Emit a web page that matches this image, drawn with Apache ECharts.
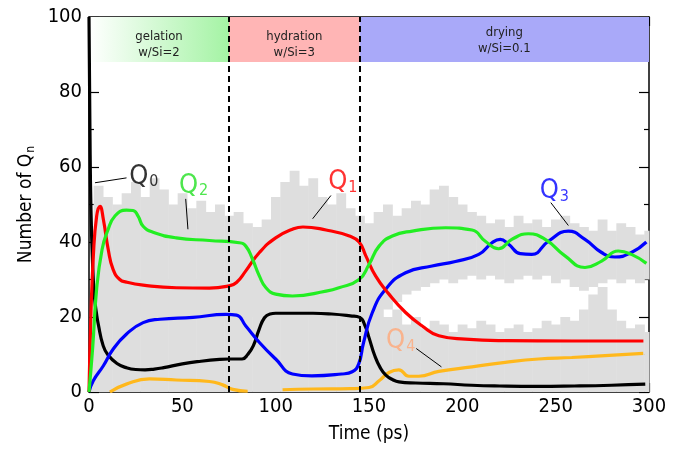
<!DOCTYPE html>
<html>
<head>
<meta charset="utf-8">
<script src="https://cdn.jsdelivr.net/npm/echarts@6/dist/echarts.min.js"></script>
<style>html,body{margin:0;padding:0;background:#fff}#c{width:682px;height:449px}</style>
</head>
<body>
<div id="c"></div>
<script>
// ---- data ----
const q0T = [0,0.5,1,2,3,4,5,7.5,10,15,20,25,30,35,40,50,60,70,75,82,85,88,91,94,97,100,110,120,130,140,145,148,150,153,156,159,163,166,175,190,205,220,240,260,280,298];
const q0V = [100,70,50,33,25,21,18,12.5,10,7.6,6.5,6,5.9,6.1,6.5,7.5,8.2,8.7,8.8,8.8,10,12.3,16.5,19.8,20.8,21,21,21,20.8,20.3,19.9,17.5,14.5,9.8,6.5,4.5,3.2,2.7,2.4,2.2,1.8,1.6,1.5,1.6,1.8,2.1];

const q1T = [0,1,2.3,4.1,5.9,7.7,10.3,12.9,16.5,20,29,46.7,64.5,75,79,84,91.3,100,109,114.6,127,139.5,144.7,148.3,153.6,160.7,169.6,178.5,187.4,201.6,223,258.6,297];
const q1V = [0,20,36,46.9,49.5,46,38,32.7,30,29.3,28.5,27.8,27.7,28.3,29.2,32.3,37.2,41.1,43.4,44,43.2,41.6,40,36.3,30.9,26.1,21.2,17.6,15,14.1,13.7,13.6,13.6];

const q2T = [0,2,4,7,10,14,20,23.6,26.3,29,34.3,46.7,64.5,80.5,84,87.6,91.3,94.8,100,109,127,133.9,144.7,150,155.4,162.5,173.2,191,205.2,212.3,219.4,226.5,235.4,244.4,255,265.7,274.6,283.5,290.6,298.6];
const q2V = [0,12,27,38,43,47,48.5,48.4,46.9,44.2,42.6,41.1,40.4,39.8,38.9,35.4,30.9,27.8,26.1,25.6,26.9,27.8,30,34,38.9,41.6,42.9,43.8,43.2,40.2,38.2,40.7,42.2,40.7,36.3,33.2,34.9,37.6,36.7,34.3];

const q3T = [0,2.3,7.7,12.9,20,29,38,55.7,73.5,79,84,91.3,100,109,119.4,135.4,141,144.5,147,151.8,158.9,169.6,183.8,196.3,208.8,215.9,220.3,224.8,231,237.2,246.1,256.8,265.7,274.6,281.7,290.6,298.6];
const q3V = [0,3,7,11.4,15.4,18.5,19.4,19.9,20.7,20.5,17.6,13.2,8.8,4.8,4.3,4.8,5.4,7.5,13,21.2,27.4,31.8,33.6,34.8,36.7,39.8,40.7,39.4,36.9,36.7,40.2,42.9,40.7,37.2,36,37.2,40];

const q4T = [11.2,20,32.4,46.7,64.5,71.6,77,85,95,103.7,120,140,150,155.4,160.7,166,171.4,176.7,187.4,205.2,223,240.8,258.6,276.4,296.9];
const q4V = [0,2.1,3.5,3.2,2.8,1.9,0.7,0.2,null,0.6,0.8,0.9,1.2,3,5.2,5.9,4.2,4.2,5.5,6.7,7.9,8.8,9.2,9.7,10.3];

// raw (noisy) data envelopes, every 5 ps
const grayT = [0,5,10,15,20,25,30,35,40,45,50,55,60,65,70,75,80,85,90,95,100,105,110,115,120,125,130,135,140,145,150,155,160,165,170,175,180,185,190,195,200,205,210,215,220,225,230,235,240,245,250,255,260,265,270,275,280,285,290,295,300];
const grayHighA = [20,55,52,50,53,56,52,57,54,50, 53,49,51,48,50,47,48,45,44,46, 52,56,59,55,57,52,50,53,49,47, 45,48,50,47,49,51,50,54,55,52, 50,48,47,45,46,44,47,45,46,44, 46,47,45,44,43,46,43,45,44,42, 43];
const grayLowA = [20,20,20,20,20,20,20,20,20,20, 20,20,20,20,20,20,20,20,20,20, 20,20,20,20,20,20,20,20,20,20, 10,18,22,24,26,27,28,29,30,29, 30,31,30,31,30,29,30,31,30,31, 29,30,28,27,28,29,30,29,30,29, 30];
const grayHighB = [15,35,30,28,30,30,30,28,30,30, 30,30,30,30,30,30,30,30,30,30, 30,30,30,30,30,30,30,30,30,30, 25,22,20,22,18,20,17,19,18,16, 18,17,19,18,16,17,18,16,17,19, 18,20,19,22,26,28,22,19,17,18, 16];

const phaseStart = [0, 75, 145];
const phaseEnd = [75, 145, 300];
const phaseName = ['gelation', 'hydration', 'drying'];
const phaseRatio = ['w/Si=2', 'w/Si=3', 'w/Si=0.1'];
const bandBottom = 88;

const xTicks = [0, 50, 100, 150, 200, 250, 300];
const yTicks = [0, 20, 40, 60, 80, 100];

// annotations: [label digit, text pos t, v, arrow from t,v, arrow to t,v]
const annots = [
  ['0', 29.4, 57.4, 20.1, 57.1, 3.2, 55.8],
  ['2', 56, 55, 51.8, 51.5, 53, 43.4],
  ['1', 136, 55.9, 129.6, 52.4, 119.8, 46.2],
  ['3', 249.3, 53.5, 247.4, 50.5, 256.8, 44.4],
  ['4', 167, 13.6, 175.3, 11.6, 188.8, 6.7]
];
const annotColor = ['#000000', '#22e022', '#ff0000', '#0000ff', '#ffa878'];

// ---- build ----
const FONT = "'DejaVu Sans Condensed', 'DejaVu Sans', sans-serif";
function pairs(T, V) { return T.map((t, i) => [t, V[i] === null ? '-' : V[i]]); }
const chart = echarts.init(document.getElementById('c'), null, {renderer: 'canvas'});

const grayColor = '#dedede';
const halfStep = (grayT[1] - grayT[0]) / 2;
function bandRender(params, api) {
  const t = api.value(0), lo = api.value(1), hi = api.value(2);
  const p1 = api.coord([Math.max(0, t - halfStep), hi]);
  const p2 = api.coord([Math.min(300, t + halfStep), lo]);
  return {type: 'rect', shape: {x: p1[0], y: p1[1], width: p2[0] - p1[0] + 0.5, height: p2[1] - p1[1]}, style: {fill: grayColor}};
}
const lineBase = {type: 'line', showSymbol: false, symbol: 'none', smooth: 0.5, z: 4};

const series = [
  {type: 'custom', name: 'rawA', renderItem: bandRender, silent: true, z: 1,
    data: grayT.map((t, i) => [t, grayLowA[i], grayHighA[i]])},
  {type: 'custom', name: 'rawB', renderItem: bandRender, silent: true, z: 1,
    data: grayT.map((t, i) => [t, 0, grayHighB[i]])},
  {type: 'line', name: 'bands', data: [], z: 2, symbol: 'none',
    markArea: {
      silent: true,
      data: phaseStart.map((s, i) => [{
        xAxis: s, yAxis: bandBottom,
        itemStyle: {color: i === 0 ? new echarts.graphic.LinearGradient(0, 0, 1, 0, [{offset: 0, color: '#ffffff'}, {offset: 1, color: '#a4f3a4'}]) : (i === 1 ? '#ffb5b5' : '#a9a9f9'), opacity: 1},
        label: {show: true, position: 'inside', offset: [0, i === 2 ? 1 : 5], formatter: phaseName[i] + '\n' + phaseRatio[i], color: '#222', fontSize: 13, lineHeight: 16, fontFamily: FONT}
      }, {xAxis: phaseEnd[i], yAxis: 100}])
    }
  },
  Object.assign({}, lineBase, {name: 'Q4', data: pairs(q4T, q4V), lineStyle: {width: 3.2, color: '#ffb81c'}, itemStyle: {color: '#ffb81c'}}),
  Object.assign({}, lineBase, {name: 'Q0', data: pairs(q0T, q0V), lineStyle: {width: 3.2, color: '#000'}, itemStyle: {color: '#000'}}),
  Object.assign({}, lineBase, {name: 'Q3', data: pairs(q3T, q3V), lineStyle: {width: 3.2, color: '#0000ff'}, itemStyle: {color: '#0000ff'}}),
  Object.assign({}, lineBase, {name: 'Q1', data: pairs(q1T, q1V), lineStyle: {width: 3.2, color: '#ff0000'}, itemStyle: {color: '#ff0000'}}),
  Object.assign({}, lineBase, {name: 'Q2', data: pairs(q2T, q2V), lineStyle: {width: 3.2, color: '#22ee22'}, itemStyle: {color: '#22ee22'}}),
  {type: 'line', name: 'dash', data: [], z: 6, symbol: 'none',
    markLine: {silent: true, symbol: 'none', label: {show: false},
      lineStyle: {color: '#000', width: 2, type: [6, 4]},
      data: [{xAxis: phaseStart[1]}, {xAxis: phaseStart[2]}]}
  },
  {type: 'line', name: 'arrows', data: [], z: 7, symbol: 'none',
    markLine: {silent: true, symbol: ['none', 'arrow'], symbolSize: [0, 8], label: {show: false},
      lineStyle: {color: '#000', width: 1, type: 'solid'},
      data: annots.map(a => [{coord: [a[3], a[4]]}, {coord: [a[5], a[6]]}])}
  },
  {type: 'scatter', name: 'labels', symbolSize: 0, z: 8, silent: true,
    data: annots.map((a, i) => ({
      value: [a[1], a[2]],
      label: {show: true, position: 'inside', formatter: '{q|Q}{s|' + a[0] + '}',
        rich: {
          q: {fontSize: 27, color: annotColor[i], fontFamily: FONT},
          s: {fontSize: 16, color: annotColor[i], fontFamily: FONT, padding: [11, 0, 0, 1]}
        }}
    }))
  }
];

const axisLineStyle = {color: '#000', width: 1.5};
chart.setOption({
  animation: false,
  backgroundColor: '#fff',
  grid: {left: 89, right: 33, top: 17, bottom: 56},
  xAxis: [
    {type: 'value', min: 0, max: 300, interval: 50, position: 'bottom',
      axisLine: {show: true, onZero: false, lineStyle: axisLineStyle},
      axisTick: {inside: true, length: 9, lineStyle: {color: '#000', width: 1.2}},
      minorTick: {show: true, splitNumber: 2, length: 5, lineStyle: {color: '#000', width: 1.2}},
      splitLine: {show: false},
      axisLabel: {color: '#000', fontSize: 20, fontFamily: FONT, margin: 5, formatter: v => xTicks.includes(v) ? String(v) : ''},
      name: 'Time (ps)', nameLocation: 'middle', nameGap: 33,
      nameTextStyle: {color: '#000', fontSize: 19, fontFamily: FONT}
    },
    {type: 'value', min: 0, max: 300, interval: 50, position: 'top',
      axisLine: {show: true, onZero: false, lineStyle: axisLineStyle},
      axisTick: {inside: true, length: 9, lineStyle: {color: '#000', width: 1.2}},
      minorTick: {show: true, splitNumber: 2, length: 5, lineStyle: {color: '#000', width: 1.2}},
      splitLine: {show: false}, axisLabel: {show: false}
    }
  ],
  yAxis: [
    {type: 'value', min: 0, max: 100, interval: 20, position: 'left',
      axisLine: {show: true, onZero: false, lineStyle: axisLineStyle},
      axisTick: {inside: true, length: 10, lineStyle: {color: '#000', width: 1.2}},
      minorTick: {show: true, splitNumber: 2, length: 5, lineStyle: {color: '#000', width: 1.2}},
      splitLine: {show: false},
      axisLabel: {color: '#000', fontSize: 20, fontFamily: FONT, margin: 7, formatter: v => yTicks.includes(v) ? String(v) : ''},
      name: 'Number of Q{s|n}', nameLocation: 'middle', nameGap: 52, nameRotate: 90,
      nameTextStyle: {color: '#000', fontSize: 19, fontFamily: FONT,
        rich: {s: {fontSize: 12, fontFamily: FONT, color: '#000', padding: [9, 0, 0, 1]}}}
    },
    {type: 'value', min: 0, max: 100, interval: 20, position: 'right',
      axisLine: {show: true, onZero: false, lineStyle: axisLineStyle},
      axisTick: {inside: true, length: 10, lineStyle: {color: '#000', width: 1.2}},
      minorTick: {show: true, splitNumber: 2, length: 5, lineStyle: {color: '#000', width: 1.2}},
      splitLine: {show: false}, axisLabel: {show: false}
    }
  ],
  series: series
});
</script>
</body>
</html>
